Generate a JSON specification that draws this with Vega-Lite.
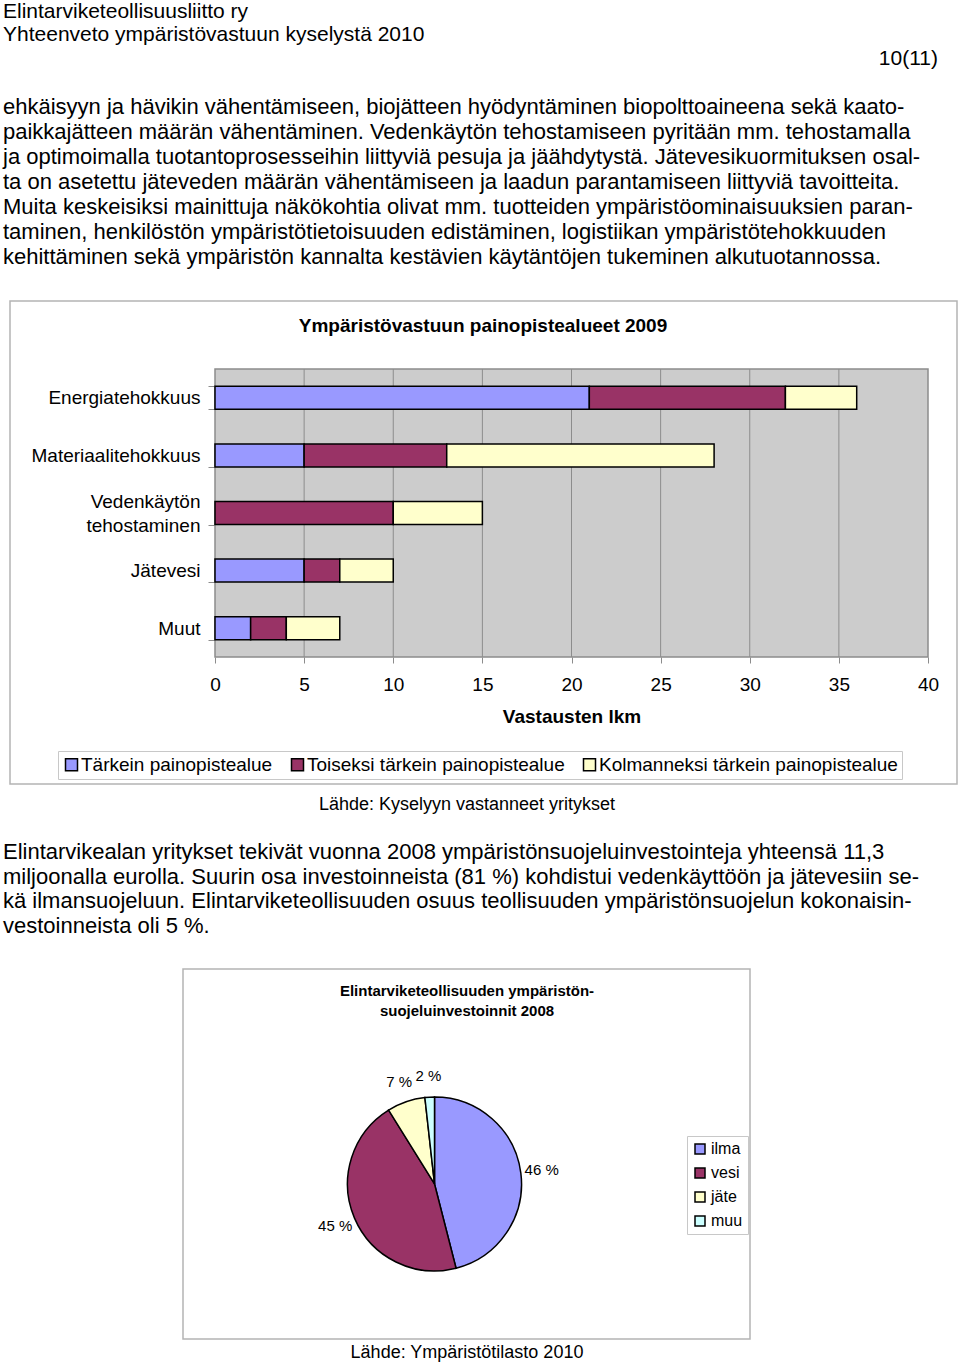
{
  "$schema": "https://vega.github.io/schema/vega-lite/v6.json",
  "padding": 0,
  "background": "white",
  "spacing": 0,
  "bounds": "flush",
  "resolve": {"scale": {"color": "independent"}, "legend": {"color": "independent"}},
  "config": {
    "font": "Liberation Sans",
    "view": {"stroke": null},
    "concat": {"spacing": 0},
    "text": {"color": "black"}
  },
  "datasets": {
    "head": [
      {"row": 0, "t": "Elintarviketeollisuusliitto ry"},
      {"row": 1, "t": "Yhteenveto ympäristövastuun kyselystä 2010"}
    ],
    "page": [{"row": 2, "t": "10(11)"}],
    "para1": [
      {"row": 4, "t": "ehkäisyyn ja hävikin vähentämiseen, biojätteen hyödyntäminen biopolttoaineena sekä kaato-"},
      {"row": 5, "t": "paikkajätteen määrän vähentäminen. Vedenkäytön tehostamiseen pyritään mm. tehostamalla"},
      {"row": 6, "t": "ja optimoimalla tuotantoprosesseihin liittyviä pesuja ja jäähdytystä. Jätevesikuormituksen osal-"},
      {"row": 7, "t": "ta on asetettu jäteveden määrän vähentämiseen ja laadun parantamiseen liittyviä tavoitteita."},
      {"row": 8, "t": "Muita keskeisiksi mainittuja näkökohtia olivat mm. tuotteiden ympäristöominaisuuksien paran-"},
      {"row": 9, "t": "taminen, henkilöstön ympäristötietoisuuden edistäminen, logistiikan ympäristötehokkuuden"},
      {"row": 10, "t": "kehittäminen sekä ympäristön kannalta kestävien käytäntöjen tukeminen alkutuotannossa."}
    ],
    "bars": [
      {"cat": "Energiatehokkuus", "series": "Tärkein painopistealue", "s": 1, "value": 21},
      {"cat": "Energiatehokkuus", "series": "Toiseksi tärkein painopistealue", "s": 2, "value": 11},
      {"cat": "Energiatehokkuus", "series": "Kolmanneksi tärkein painopistealue", "s": 3, "value": 4},
      {"cat": "Materiaalitehokkuus", "series": "Tärkein painopistealue", "s": 1, "value": 5},
      {"cat": "Materiaalitehokkuus", "series": "Toiseksi tärkein painopistealue", "s": 2, "value": 8},
      {"cat": "Materiaalitehokkuus", "series": "Kolmanneksi tärkein painopistealue", "s": 3, "value": 15},
      {"cat": "Vedenkäytön tehostaminen", "series": "Toiseksi tärkein painopistealue", "s": 2, "value": 10},
      {"cat": "Vedenkäytön tehostaminen", "series": "Kolmanneksi tärkein painopistealue", "s": 3, "value": 5},
      {"cat": "Jätevesi", "series": "Tärkein painopistealue", "s": 1, "value": 5},
      {"cat": "Jätevesi", "series": "Toiseksi tärkein painopistealue", "s": 2, "value": 2},
      {"cat": "Jätevesi", "series": "Kolmanneksi tärkein painopistealue", "s": 3, "value": 3},
      {"cat": "Muut", "series": "Tärkein painopistealue", "s": 1, "value": 2},
      {"cat": "Muut", "series": "Toiseksi tärkein painopistealue", "s": 2, "value": 2},
      {"cat": "Muut", "series": "Kolmanneksi tärkein painopistealue", "s": 3, "value": 3}
    ],
    "grid": [{"g": 5}, {"g": 10}, {"g": 15}, {"g": 20}, {"g": 25}, {"g": 30}, {"g": 35}],
    "mid": [{"row": 0, "t": "Lähde: Kyselyyn vastanneet yritykset"}],
    "para2": [
      {"row": 2, "t": "Elintarvikealan yritykset tekivät vuonna 2008 ympäristönsuojeluinvestointeja yhteensä 11,3"},
      {"row": 3, "t": "miljoonalla eurolla. Suurin osa investoinneista (81 %) kohdistui vedenkäyttöön ja jätevesiin se-"},
      {"row": 4, "t": "kä ilmansuojeluun. Elintarviketeollisuuden osuus teollisuuden ympäristönsuojelun kokonaisin-"},
      {"row": 5, "t": "vestoinneista oli 5 %."}
    ],
    "pie": [
      {"k": "ilma", "v": 5.2, "o": 1, "label": "46 %"},
      {"k": "vesi", "v": 5.1, "o": 2, "label": "45 %"},
      {"k": "jäte", "v": 0.8, "o": 3, "label": "7 %"},
      {"k": "muu", "v": 0.2, "o": 4, "label": "2 %"}
    ],
    "foot": [{"t": "Lähde: Ympäristötilasto 2010"}]
  },
  "vconcat": [
    {
      "width": 960,
      "height": 300,
      "layer": [
        {
          "data": {"name": "head"},
          "mark": {"type": "text", "align": "left", "baseline": "middle", "fontSize": 21},
          "encoding": {
            "x": {"datum": 0, "type": "quantitative", "scale": {"domain": [0, 1], "range": [3, 938]}, "axis": null},
            "y": {"field": "row", "type": "quantitative", "scale": {"domain": [0, 2], "range": [10.6, 58]}, "axis": null},
            "text": {"field": "t"}
          }
        },
        {
          "data": {"name": "page"},
          "mark": {"type": "text", "align": "right", "baseline": "middle", "fontSize": 21},
          "encoding": {
            "x": {"datum": 1, "type": "quantitative", "scale": {"domain": [0, 1], "range": [3, 938]}, "axis": null},
            "y": {"field": "row", "type": "quantitative", "scale": {"domain": [0, 2], "range": [10.6, 58]}, "axis": null},
            "text": {"field": "t"}
          }
        },
        {
          "data": {"name": "para1"},
          "mark": {"type": "text", "align": "left", "baseline": "middle", "fontSize": 22},
          "encoding": {
            "x": {"datum": 0, "type": "quantitative", "scale": {"domain": [0, 1], "range": [3, 938]}, "axis": null},
            "y": {"field": "row", "type": "quantitative", "scale": {"domain": [0, 10], "range": [6, 256]}, "axis": null},
            "text": {"field": "t"}
          }
        }
      ],
      "resolve": {"scale": {"y": "independent"}}
    },
    {
      "width": 960,
      "height": 483,
      "title": {
        "text": "Ympäristövastuun painopistealueet 2009",
        "fontSize": 19,
        "fontWeight": "bold",
        "color": "black",
        "anchor": "middle",
        "frame": "group",
        "offset": -44,
        "dx": 3
      },
      "layer": [
        {
          "data": {"values": [{}]},
          "mark": {"type": "rect", "filled": false, "stroke": "#b4b4b4", "strokeWidth": 1.5},
          "encoding": {
            "x": {"datum": 0, "type": "quantitative", "scale": {"domain": [0, 1], "range": [10, 957]}, "axis": null},
            "x2": {"datum": 1},
            "y": {"datum": 0, "type": "quantitative", "scale": {"domain": [0, 1], "range": [0, 483]}, "axis": null},
            "y2": {"datum": 1}
          }
        },
        {
          "data": {"values": [{}]},
          "mark": {"type": "rect", "fill": "#cccccc", "stroke": "#8c8c8c", "strokeWidth": 1.5},
          "encoding": {
            "x": {"datum": 0, "type": "quantitative", "scale": {"domain": [0, 40], "range": [215, 928], "nice": false}, "axis": null},
            "x2": {"datum": 40},
            "y": {"datum": 0, "type": "quantitative", "scale": {"domain": [0, 1], "range": [68, 356]}, "axis": null},
            "y2": {"datum": 1}
          }
        },
        {
          "data": {"name": "grid"},
          "mark": {"type": "rule", "color": "#8c8c8c", "strokeWidth": 1},
          "encoding": {
            "x": {"field": "g", "type": "quantitative", "scale": {"domain": [0, 40], "range": [215, 928], "nice": false}, "axis": null},
            "y": {"datum": 0, "type": "quantitative", "scale": {"domain": [0, 1], "range": [68, 356]}, "axis": null},
            "y2": {"datum": 1}
          }
        },
        {
          "data": {"name": "bars"},
          "mark": {"type": "bar", "stroke": "black", "strokeWidth": 1.5},
          "encoding": {
            "y": {
              "field": "cat",
              "type": "nominal",
              "sort": ["Energiatehokkuus", "Materiaalitehokkuus", "Vedenkäytön tehostaminen", "Jätevesi", "Muut"],
              "scale": {"range": [68, 356], "paddingInner": 0.6, "paddingOuter": 0.3},
              "axis": {
                "title": null,
                "orient": "left",
                "offset": -215,
                "domain": false,
                "tickBand": "extent",
                "tickColor": "#8c8c8c",
                "tickSize": 7,
                "labelPadding": 8,
                "labelFontSize": 19,
                "labelColor": "black",
                "labelLimit": 400,
                "labelLineHeight": 24,
                "labelOffset": {"condition": {"test": "datum.label == 'Vedenkäytön tehostaminen'", "value": -12}, "value": 0},
                "labelExpr": "datum.label == 'Vedenkäytön tehostaminen' ? ['Vedenkäytön', 'tehostaminen'] : datum.label"
              }
            },
            "x": {
              "field": "value",
              "type": "quantitative",
              "stack": "zero",
              "scale": {"domain": [0, 40], "range": [215, 928], "nice": false, "zero": true},
              "axis": {
                "title": "Vastausten lkm",
                "orient": "bottom",
                "offset": -127,
                "values": [0, 5, 10, 15, 20, 25, 30, 35, 40],
                "domain": false,
                "grid": false,
                "tickColor": "#8c8c8c",
                "tickSize": 6,
                "labelFontSize": 19,
                "labelColor": "black",
                "labelPadding": 12,
                "labelFlush": false,
                "titleFontSize": 19,
                "titleFontWeight": "bold",
                "titleColor": "black",
                "titlePadding": 13
              }
            },
            "order": {"field": "s"},
            "color": {
              "field": "series",
              "type": "nominal",
              "scale": {
                "domain": ["Tärkein painopistealue", "Toiseksi tärkein painopistealue", "Kolmanneksi tärkein painopistealue"],
                "range": ["#9999ff", "#993366", "#ffffcc"]
              },
              "legend": {
                "orient": "none",
                "legendX": 58,
                "legendY": 450,
                "direction": "horizontal",
                "title": null,
                "labelFontSize": 19,
                "labelColor": "black",
                "labelLimit": 500,
                "symbolType": "square",
                "symbolSize": 144,
                "symbolStrokeColor": "black",
                "symbolStrokeWidth": 1.5,
                "strokeColor": "#c8c8c8",
                "padding": 4,
                "columnPadding": 15,
                "labelOffset": 0
              }
            }
          }
        }
      ],
      "resolve": {"scale": {"x": "independent", "y": "independent"}, "axis": {"x": "independent", "y": "independent"}}
    },
    {
      "width": 960,
      "height": 185,
      "layer": [
        {
          "data": {"name": "mid"},
          "mark": {"type": "text", "align": "center", "baseline": "middle", "fontSize": 18},
          "encoding": {
            "x": {"datum": 0.5, "type": "quantitative", "scale": {"domain": [0, 1], "range": [3, 931]}, "axis": null},
            "y": {"field": "row", "type": "quantitative", "scale": {"domain": [0, 5], "range": [21, 142]}, "axis": null},
            "text": {"field": "t"}
          }
        },
        {
          "data": {"name": "para2"},
          "mark": {"type": "text", "align": "left", "baseline": "middle", "fontSize": 22},
          "encoding": {
            "x": {"datum": 0, "type": "quantitative", "scale": {"domain": [0, 1], "range": [3, 931]}, "axis": null},
            "y": {"field": "row", "type": "quantitative", "scale": {"domain": [0, 5], "range": [19, 142]}, "axis": null},
            "text": {"field": "t"}
          }
        }
      ],
      "resolve": {"scale": {"y": "independent"}}
    },
    {
      "width": 960,
      "height": 370,
      "title": {
        "text": ["Elintarviketeollisuuden ympäristön-", "suojeluinvestoinnit 2008"],
        "fontSize": 15,
        "fontWeight": "bold",
        "color": "black",
        "lineHeight": 20,
        "anchor": "middle",
        "frame": "group",
        "offset": -51,
        "dx": -13
      },
      "layer": [
        {
          "data": {"values": [{}]},
          "mark": {"type": "rect", "filled": false, "stroke": "#b4b4b4", "strokeWidth": 1.5},
          "encoding": {
            "x": {"datum": 0, "type": "quantitative", "scale": {"domain": [0, 1], "range": [183, 750]}, "axis": null},
            "x2": {"datum": 1},
            "y": {"datum": 0, "type": "quantitative", "scale": {"domain": [0, 1], "range": [0, 370]}, "axis": null},
            "y2": {"datum": 1}
          }
        },
        {
          "data": {"name": "pie"},
          "encoding": {
            "theta": {"field": "v", "type": "quantitative", "stack": true},
            "order": {"field": "o"},
            "x": {"datum": 0.4436, "type": "quantitative"},
            "y": {"datum": 0.581, "type": "quantitative"}
          },
          "layer": [
            {
              "mark": {"type": "arc", "outerRadius": 87, "stroke": "black", "strokeWidth": 1.5},
              "encoding": {
                "color": {
                  "field": "k",
                  "type": "nominal",
                  "scale": {"domain": ["ilma", "vesi", "jäte", "muu"], "range": ["#9999ff", "#993366", "#ffffcc", "#ccffff"]},
                  "legend": {
                    "orient": "none",
                    "legendX": 687,
                    "legendY": 167,
                    "title": null,
                    "labelFontSize": 16,
                    "labelColor": "black",
                    "symbolType": "square",
                    "symbolSize": 100,
                    "symbolStrokeColor": "black",
                    "symbolStrokeWidth": 1.5,
                    "strokeColor": "#c8c8c8",
                    "padding": 5,
                    "rowPadding": 8,
                    "labelOffset": 3
                  }
                }
              }
            },
            {
              "mark": {"type": "text", "radius": 108, "fontSize": 15, "align": "center", "baseline": "middle"},
              "encoding": {"text": {"field": "label"}}
            }
          ]
        }
      ]
    },
    {
      "width": 960,
      "height": 27,
      "data": {"name": "foot"},
      "mark": {"type": "text", "align": "center", "baseline": "middle", "fontSize": 18},
      "encoding": {
        "x": {"datum": 0.5, "type": "quantitative", "scale": {"domain": [0, 1], "range": [3, 931]}, "axis": null},
        "y": {"datum": 0.5, "type": "quantitative", "scale": {"domain": [0, 1], "range": [0, 27]}, "axis": null},
        "text": {"field": "t"}
      }
    }
  ]
}
